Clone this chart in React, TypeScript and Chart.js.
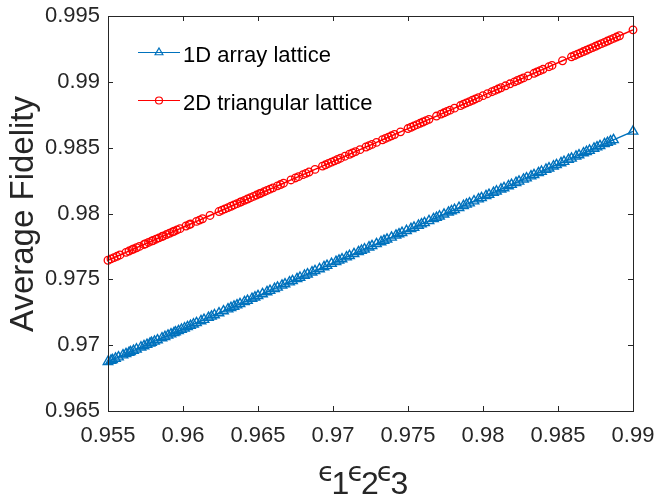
import React, { useEffect, useRef } from "react";
import { Chart, registerables } from "chart.js";
Chart.register(...registerables);

const xTicks = [0.955, 0.96, 0.965, 0.97, 0.975, 0.98, 0.985, 0.99];
const yTicks = [0.965, 0.97, 0.975, 0.98, 0.985, 0.99, 0.995];
const seriesNames = ["1D array lattice", "2D triangular lattice"];
const seriesColors = ["#0072BD", "#FF0000"];

const x1D = [
  0.9550, 0.9552, 0.9553, 0.9555, 0.9557, 0.9560, 0.9562, 0.9564, 0.9565, 0.9567, 0.9569,
  0.9572, 0.9574, 0.9576, 0.9578, 0.9579, 0.9581, 0.9583, 0.9586, 0.9588, 0.9590, 0.9592,
  0.9594, 0.9595, 0.9597, 0.9599, 0.9601, 0.9603, 0.9605, 0.9607, 0.9609, 0.9612, 0.9614,
  0.9617, 0.9619, 0.9621, 0.9624, 0.9627, 0.9630, 0.9632, 0.9634, 0.9636, 0.9638, 0.9641,
  0.9643, 0.9646, 0.9648, 0.9650, 0.9653, 0.9656, 0.9658, 0.9661, 0.9663, 0.9666, 0.9668,
  0.9671, 0.9673, 0.9676, 0.9678, 0.9681, 0.9683, 0.9686, 0.9688, 0.9691, 0.9694, 0.9696,
  0.9699, 0.9702, 0.9704, 0.9706, 0.9709, 0.9711, 0.9714, 0.9717, 0.9719, 0.9721, 0.9724,
  0.9726, 0.9729, 0.9732, 0.9734, 0.9736, 0.9739, 0.9742, 0.9744, 0.9746, 0.9749, 0.9752,
  0.9754, 0.9757, 0.9759, 0.9761, 0.9764, 0.9767, 0.9769, 0.9771, 0.9774, 0.9777, 0.9779,
  0.9781, 0.9784, 0.9787, 0.9789, 0.9791, 0.9794, 0.9797, 0.9799, 0.9802, 0.9804, 0.9807,
  0.9809, 0.9812, 0.9814, 0.9817, 0.9819, 0.9822, 0.9824, 0.9827, 0.9829, 0.9832, 0.9834,
  0.9837, 0.9839, 0.9842, 0.9844, 0.9847, 0.9849, 0.9852, 0.9854, 0.9857, 0.9859, 0.9862,
  0.9864, 0.9867, 0.9869, 0.9871, 0.9874, 0.9876, 0.9878, 0.9881, 0.9883, 0.9885, 0.9887,
  0.9900,
];
const y1D = [
  0.96874, 0.96884, 0.96889, 0.96899, 0.96909, 0.96924, 0.96934, 0.96944, 0.96949, 0.96959, 0.96969,
  0.96984, 0.96994, 0.97004, 0.97014, 0.97019, 0.97029, 0.97039, 0.97054, 0.97064, 0.97074, 0.97084,
  0.97094, 0.97099, 0.97109, 0.97119, 0.97129, 0.97139, 0.97149, 0.97159, 0.97169, 0.97184, 0.97194,
  0.97209, 0.97219, 0.97229, 0.97244, 0.97259, 0.97274, 0.97284, 0.97294, 0.97304, 0.97314, 0.97329,
  0.97339, 0.97354, 0.97364, 0.97374, 0.97389, 0.97404, 0.97414, 0.97429, 0.97439, 0.97454, 0.97464,
  0.97479, 0.97489, 0.97504, 0.97514, 0.97529, 0.97539, 0.97554, 0.97564, 0.97579, 0.97594, 0.97604,
  0.97619, 0.97634, 0.97644, 0.97654, 0.97669, 0.97679, 0.97694, 0.97709, 0.97719, 0.97729, 0.97744,
  0.97754, 0.97769, 0.97784, 0.97794, 0.97804, 0.97819, 0.97834, 0.97844, 0.97854, 0.97869, 0.97884,
  0.97894, 0.97909, 0.97919, 0.97929, 0.97944, 0.97959, 0.97969, 0.97979, 0.97994, 0.98009, 0.98019,
  0.98029, 0.98044, 0.98059, 0.98069, 0.98079, 0.98094, 0.98109, 0.98119, 0.98134, 0.98144, 0.98159,
  0.98169, 0.98184, 0.98194, 0.98209, 0.98219, 0.98234, 0.98244, 0.98259, 0.98269, 0.98284, 0.98294,
  0.98309, 0.98319, 0.98334, 0.98344, 0.98359, 0.98369, 0.98384, 0.98394, 0.98409, 0.98419, 0.98434,
  0.98444, 0.98459, 0.98469, 0.98479, 0.98494, 0.98504, 0.98514, 0.98529, 0.98539, 0.98549, 0.98559,
  0.98624,
];

const x2D = [
  0.9550, 0.9552, 0.9554, 0.9556, 0.9558, 0.9562, 0.9564, 0.9566, 0.9567, 0.9569, 0.9571,
  0.9574, 0.9575, 0.9577, 0.9579, 0.9580, 0.9582, 0.9584, 0.9586, 0.9587, 0.9589, 0.9591,
  0.9593, 0.9594, 0.9596, 0.9598, 0.9602, 0.9604, 0.9605, 0.9609, 0.9611, 0.9613, 0.9618,
  0.9624, 0.9626, 0.9628, 0.9630, 0.9632, 0.9634, 0.9636, 0.9638, 0.9639, 0.9641, 0.9643,
  0.9645, 0.9647, 0.9649, 0.9651, 0.9652, 0.9654, 0.9656, 0.9658, 0.9660, 0.9663, 0.9665,
  0.9667, 0.9672, 0.9675, 0.9677, 0.9680, 0.9682, 0.9684, 0.9688, 0.9693, 0.9695, 0.9697,
  0.9699, 0.9701, 0.9703, 0.9705, 0.9708, 0.9711, 0.9713, 0.9715, 0.9718, 0.9722, 0.9724,
  0.9726, 0.9729, 0.9733, 0.9735, 0.9737, 0.9739, 0.9741, 0.9745, 0.9750, 0.9752, 0.9754,
  0.9756, 0.9758, 0.9760, 0.9762, 0.9764, 0.9769, 0.9772, 0.9774, 0.9776, 0.9778, 0.9781,
  0.9785, 0.9787, 0.9789, 0.9791, 0.9793, 0.9795, 0.9797, 0.9800, 0.9803, 0.9806, 0.9808,
  0.9810, 0.9812, 0.9815, 0.9818, 0.9821, 0.9823, 0.9825, 0.9827, 0.9830, 0.9834, 0.9836,
  0.9838, 0.9840, 0.9844, 0.9846, 0.9853, 0.9859, 0.9861, 0.9863, 0.9865, 0.9867, 0.9869,
  0.9871, 0.9873, 0.9875, 0.9877, 0.9879, 0.9881, 0.9883, 0.9885, 0.9887, 0.9889, 0.9891,
  0.9900,
];
const y2D = [
  0.97645, 0.97655, 0.97665, 0.97675, 0.97685, 0.97705, 0.97715, 0.97725, 0.97730, 0.97740, 0.97750,
  0.97765, 0.97770, 0.97780, 0.97790, 0.97795, 0.97805, 0.97815, 0.97825, 0.97830, 0.97840, 0.97850,
  0.97860, 0.97865, 0.97875, 0.97885, 0.97905, 0.97915, 0.97920, 0.97940, 0.97950, 0.97960, 0.97985,
  0.98015, 0.98025, 0.98035, 0.98045, 0.98055, 0.98065, 0.98075, 0.98085, 0.98090, 0.98100, 0.98110,
  0.98120, 0.98130, 0.98140, 0.98150, 0.98155, 0.98165, 0.98175, 0.98185, 0.98195, 0.98210, 0.98220,
  0.98230, 0.98255, 0.98270, 0.98280, 0.98295, 0.98305, 0.98315, 0.98335, 0.98360, 0.98370, 0.98380,
  0.98390, 0.98400, 0.98410, 0.98420, 0.98435, 0.98450, 0.98460, 0.98470, 0.98485, 0.98505, 0.98515,
  0.98525, 0.98540, 0.98560, 0.98570, 0.98580, 0.98590, 0.98600, 0.98620, 0.98645, 0.98655, 0.98665,
  0.98675, 0.98685, 0.98695, 0.98705, 0.98715, 0.98740, 0.98755, 0.98765, 0.98775, 0.98785, 0.98800,
  0.98820, 0.98830, 0.98840, 0.98850, 0.98860, 0.98870, 0.98880, 0.98895, 0.98910, 0.98925, 0.98935,
  0.98945, 0.98955, 0.98970, 0.98985, 0.99000, 0.99010, 0.99020, 0.99030, 0.99045, 0.99065, 0.99075,
  0.99085, 0.99095, 0.99115, 0.99125, 0.99160, 0.99190, 0.99200, 0.99210, 0.99220, 0.99230, 0.99240,
  0.99250, 0.99260, 0.99270, 0.99280, 0.99290, 0.99300, 0.99310, 0.99320, 0.99330, 0.99340, 0.99350,
  0.99395,
];

const FONT = "'Liberation Sans', Arial, Helvetica, sans-serif";
const AXIS_COLOR = "#262626";

const fmt = (v: number) => String(Number(v.toFixed(3)));

function drawTriangle(ctx: CanvasRenderingContext2D, x: number, y: number, r: number) {
  ctx.beginPath();
  ctx.moveTo(x, y - r);
  ctx.lineTo(x + r * 0.866, y + r * 0.5);
  ctx.lineTo(x - r * 0.866, y + r * 0.5);
  ctx.closePath();
  ctx.stroke();
}

const decorPlugin = {
  id: "decor",
  afterDatasetsDraw(chart: any) {
    const { ctx, chartArea: a, scales } = chart;
    ctx.save();
    ctx.strokeStyle = AXIS_COLOR;
    ctx.lineWidth = 1;
    ctx.strokeRect(a.left + 0.5, a.top + 0.5, a.right - a.left, a.bottom - a.top);
    const tl = 5;
    ctx.beginPath();
    for (const v of xTicks) {
      const px = Math.round(scales.x.getPixelForValue(v)) + 0.5;
      ctx.moveTo(px, a.bottom);
      ctx.lineTo(px, a.bottom - tl);
      ctx.moveTo(px, a.top);
      ctx.lineTo(px, a.top + tl);
    }
    for (const v of yTicks) {
      const py = Math.round(scales.y.getPixelForValue(v)) + 0.5;
      ctx.moveTo(a.left, py);
      ctx.lineTo(a.left + tl, py);
      ctx.moveTo(a.right, py);
      ctx.lineTo(a.right - tl, py);
    }
    ctx.stroke();

    // legend
    const rows = [52, 100];
    for (let i = 0; i < 2; i++) {
      const y = rows[i] + 0.5;
      ctx.strokeStyle = seriesColors[i];
      ctx.lineWidth = 1.2;
      ctx.beginPath();
      ctx.moveTo(138, y);
      ctx.lineTo(180, y);
      ctx.stroke();
      if (i === 0) drawTriangle(ctx, 159, y, 4.5);
      else {
        ctx.beginPath();
        ctx.arc(159, y, 3.5, 0, Math.PI * 2);
        ctx.stroke();
      }
      ctx.fillStyle = "#000000";
      ctx.font = `22px ${FONT}`;
      ctx.textAlign = "left";
      ctx.textBaseline = "alphabetic";
      ctx.fillText(seriesNames[i], 183, rows[i] + 10);
    }

    // y title
    ctx.save();
    ctx.translate(33, 214);
    ctx.rotate(-Math.PI / 2);
    ctx.fillStyle = AXIS_COLOR;
    ctx.font = `33px ${FONT}`;
    ctx.textAlign = "center";
    ctx.textBaseline = "alphabetic";
    ctx.fillText("Average Fidelity", 0, 0);
    ctx.restore();

    // x title: ϵ1ϵ2ϵ3
    let x = 318;
    ctx.fillStyle = AXIS_COLOR;
    ctx.textAlign = "left";
    ctx.textBaseline = "alphabetic";
    for (const d of ["1", "2", "3"]) {
      ctx.font = `27px 'DejaVu Sans', sans-serif`;
      ctx.fillText("\u03F5", x, 481);
      x += ctx.measureText("\u03F5").width - 3;
      ctx.font = `32px ${FONT}`;
      ctx.fillText(d, x, 494);
      x += ctx.measureText(d).width - 2;
    }
    ctx.restore();
  },
};

export default function App() {
  const ref = useRef<HTMLCanvasElement>(null);
  useEffect(() => {
    if (!ref.current) return;
    const mk = (xs: number[], ys: number[]) => xs.map((x, i) => ({ x, y: ys[i] }));
    const chart = new Chart(ref.current, {
      type: "line",
      data: {
        datasets: [
          {
            label: seriesNames[0],
            data: mk(x1D, y1D),
            borderColor: seriesColors[0],
            backgroundColor: "rgba(0,0,0,0)",
            borderWidth: 1.5,
            pointStyle: "triangle",
            pointRadius: 5.5,
            pointBorderWidth: 1.4,
            pointBorderColor: seriesColors[0],
            pointBackgroundColor: "rgba(0,0,0,0)",
            tension: 0,
            clip: false as any,
          },
          {
            label: seriesNames[1],
            data: mk(x2D, y2D),
            borderColor: seriesColors[1],
            backgroundColor: "rgba(0,0,0,0)",
            borderWidth: 1.5,
            pointStyle: "circle",
            pointRadius: 3.8,
            pointBorderWidth: 1.3,
            pointBorderColor: seriesColors[1],
            pointBackgroundColor: "rgba(0,0,0,0)",
            tension: 0,
            clip: false as any,
          },
        ],
      },
      options: {
        animation: false,
        responsive: false,
        events: [],
        layout: { padding: { left: 0, top: 16, right: 24, bottom: 0 } },
        plugins: { legend: { display: false }, tooltip: { enabled: false } },
        scales: {
          x: {
            type: "linear",
            min: 0.955,
            max: 0.99,
            grid: { display: false, drawTicks: false },
            border: { display: false },
            afterBuildTicks: (s: any) => {
              s.ticks = xTicks.map((v) => ({ value: v }));
            },
            afterFit: (s: any) => {
              s.height = 85;
              s.paddingLeft = 0;
              s.paddingRight = 0;
            },
            ticks: {
              callback: (v: any) => fmt(Number(v)),
              color: AXIS_COLOR,
              font: { family: FONT, size: 22 },
              padding: 12,
              maxRotation: 0,
              autoSkip: false,
            },
          },
          y: {
            type: "linear",
            min: 0.965,
            max: 0.995,
            grid: { display: false, drawTicks: false },
            border: { display: false },
            afterBuildTicks: (s: any) => {
              s.ticks = yTicks.map((v) => ({ value: v }));
            },
            afterFit: (s: any) => {
              s.width = 108;
              s.paddingTop = 0;
              s.paddingBottom = 0;
            },
            ticks: {
              callback: (v: any) => fmt(Number(v)),
              color: AXIS_COLOR,
              font: { family: FONT, size: 22 },
              padding: 8,
              autoSkip: false,
            },
          },
        },
      },
      plugins: [decorPlugin],
    });
    return () => chart.destroy();
  }, []);
  return (
    <div style={{ position: "fixed", left: 0, top: 0, width: 657, height: 496, background: "#fff" }}>
      <canvas ref={ref} width={657} height={496} style={{ width: 657, height: 496, display: "block" }} />
    </div>
  );
}
